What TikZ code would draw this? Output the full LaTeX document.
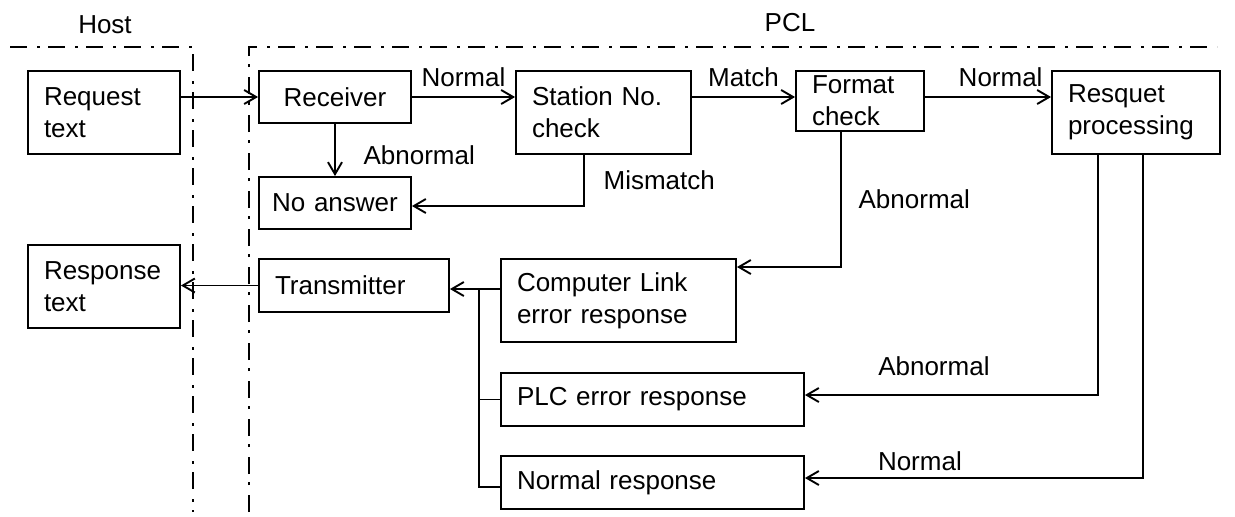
\documentclass[tikz,border=0pt]{standalone}
\usepackage{fontspec}
\setmainfont{Liberation Sans}
\usetikzlibrary{arrows.meta}
\begin{document}
\begin{tikzpicture}[x=0.5pt, y=-0.5pt, line width=0.95pt, font=\fontsize{13}{16}\selectfont,
blk/.style 2 args={draw, text width=#1, minimum height=#2, inner xsep=8pt, inner ysep=0.5pt, align=left},
arr/.style={-{Straight Barb[length=6pt,width=7pt]}},
lane/.style={line width=1pt, dash pattern=on 8.5pt off 5pt on 1.5pt off 4pt}]
\useasboundingbox (0,0) rectangle (1235,516);
\draw[lane] (10,47) -- (193,47) -- (193,512);
\draw[lane] (249,512) -- (249,47) -- (1217,47);
\node (host) at (105,25) {Host};
\node (pcl) at (790,23) {PCL};

\node[blk={60pt}{41.5pt}] (req) at (104,112.5) {Request\\text};
\node[blk={60pt}{41.5pt}] (resp) at (104,286.5) {Response\\text};
\node[blk={68pt}{26pt}, inner xsep=4pt, align=center] (rcv) at (335,97) {Receiver};
\node[blk={68pt}{26pt}, inner xsep=4pt, align=center] (noans) at (335,203) {No answer};
\node[blk={71.5pt}{41.5pt}] (stn) at (603.5,112.5) {Station No.\\check};
\node[blk={48pt}{30pt}] (fmt) at (860,101) {Format\\check};
\node[blk={68pt}{41.5pt}] (proc) at (1136,112.5) {Resquet\\processing};
\node[blk={79pt}{26.5pt}] (tx) at (354,285.5) {Transmitter};
\node[blk={101.5pt}{41.5pt}] (cle) at (618.5,300.5) {Computer Link\\error response};
\node[blk={135.5pt}{26.5pt}] (plce) at (652.5,399.5) {PLC error response};
\node[blk={135.5pt}{26.5pt}] (nres) at (652.5,482.5) {Normal response};

\draw[arr] (req.east |- rcv.west) -- (rcv.west);
\draw[arr] (rcv.east) -- (rcv.east -| stn.west) node[midway, above=1.5pt]{Normal};
\draw[arr] (stn.east |- rcv.east) -- (fmt.west |- rcv.east) node[midway, above=1.5pt]{Match};
\draw[arr] (fmt.east |- rcv.east) -- (proc.west |- rcv.east) node[pos=0.6, above=1.5pt]{Normal};
\draw[arr] (rcv.south) -- (noans.north) node[pos=0.6, right=10.5pt]{Abnormal};
\draw[arr] ([xshift=-9.75pt]stn.south) |- ([yshift=-1.5pt]noans.east) node[pos=0.25, right=6pt]{Mismatch};
\draw[arr] ([xshift=-9.5pt]fmt.south) |- ([yshift=16.75pt]cle.east) node[pos=0.25, right=5pt]{Abnormal};
\draw[arr] ([xshift=-19pt]proc.south) |- ([yshift=2.25pt]plce.east) node[pos=0.78, above=6pt]{Abnormal};
\draw[arr] ([xshift=3.5pt]proc.south) |- ([yshift=2.25pt]nres.east) node[pos=0.83, above=0pt]{Normal};

\coordinate (bus) at (479,289);
\draw[arr] (bus -| cle.west) -- (bus -| tx.east);
\draw (bus) |- (plce.west);
\draw (bus) |- ([yshift=-2.25pt]nres.west);
\draw[arr] (tx.west) -- (tx.west -| resp.east);
\end{tikzpicture}
\end{document}
